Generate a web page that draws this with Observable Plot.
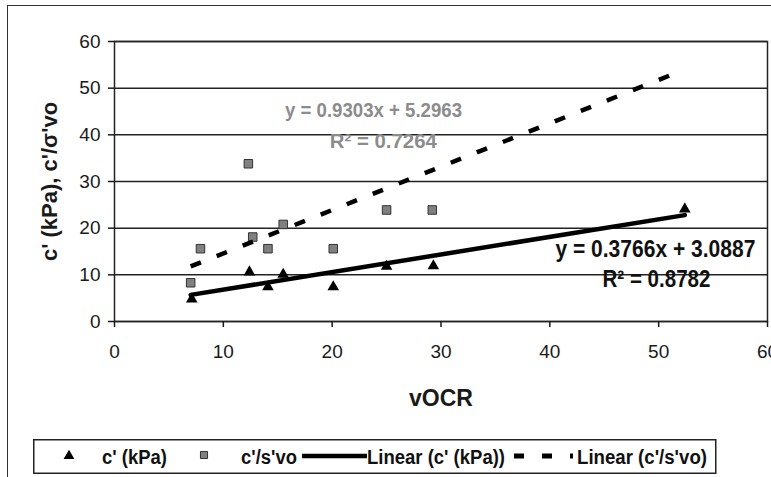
<!DOCTYPE html>
<html><head><meta charset="utf-8">
<script src="https://cdn.jsdelivr.net/npm/d3@7"></script>
<script src="https://cdn.jsdelivr.net/npm/@observablehq/plot@0.6"></script>
<style>
body{margin:0;background:#fff;width:771px;height:477px;overflow:hidden;position:relative;font-family:"Liberation Sans",Arial,sans-serif;}
#frame{position:absolute;left:7px;top:5px;width:900px;height:600px;border:1.5px solid #333;box-sizing:border-box;}
#chart{position:absolute;left:0;top:0;}
#legend{position:absolute;left:33px;top:439px;}
</style></head><body>
<div id="frame"></div>
<div id="chart"></div>
<div id="legend"></div>
<script>
// Data
const vocrC = [7.1, 12.4, 14.1, 15.5, 20.1, 25.0, 29.3, 52.4];
const cPrime = [4.8, 10.6, 7.4, 10.1, 7.4, 11.8, 11.9, 24.1];
const vocrS = [7.0, 7.9, 12.3, 12.7, 14.1, 15.5, 20.1, 25.0, 29.2];
const cRatio = [8.3, 15.6, 33.8, 18.1, 15.6, 20.8, 15.6, 23.9, 23.9];
const trendX = [7.0, 52.4];
const trendC = [5.7, 22.8];
const trendS = [11.8, 54.0];
const xTicks = [0, 10, 20, 30, 40, 50, 60];
const yTicks = [0, 10, 20, 30, 40, 50, 60];
const eqText = ["y = 0.9303x + 5.2963", "R² = 0.7264", "y = 0.3766x + 3.0887", "R² = 0.8782"];
const eqX = [23.8, 24.7, 49.7, 49.8];
const eqY = [45.3, 38.6, 15.5, 9.0];
const eqSeries = ["ratio", "ratio", "c", "c"];
const seriesNames = ["c' (kPa)", "c'/s'vo", "Linear (c' (kPa))", "Linear (c'/s'vo)"];
const xLabel = "vOCR";
const yLabel = "c' (kPa), c'/σ'vo";

const ptsC = vocrC.map((x, i) => ({x, y: cPrime[i]}));
const ptsS = vocrS.map((x, i) => ({x, y: cRatio[i]}));
const lineC = trendX.map((x, i) => ({x, y: trendC[i]}));
const lineS = trendX.map((x, i) => ({x, y: trendS[i]}));
const eqs = eqText.map((t, i) => ({t, x: eqX[i], y: eqY[i], s: eqSeries[i]}));

// condensed text widths (px) to mimic the narrow font of the original
const eqWidths = [177, 107, 200, 108];
const legendWidths = [65, 56, 138, 130];
const FONT = "'Liberation Sans', Arial, sans-serif";

const plot = Plot.plot({
  width: 771, height: 430,
  marginLeft: 114, marginRight: 4, marginTop: 41, marginBottom: 109,
  style: {fontFamily: FONT, fontSize: "19px", color: "#1a1a1a", background: "transparent", overflow: "visible"},
  x: {domain: [0, 60]},
  y: {domain: [0, 60]},
  marks: [
    Plot.gridY(yTicks, {stroke: "#222", strokeOpacity: 1, strokeWidth: 1.5}),
    Plot.frame({stroke: "#222", strokeWidth: 1.5}),
    Plot.axisY(yTicks, {tickSize: 6, tickPadding: 8, strokeWidth: 1.5, label: yLabel, labelArrow: "none", labelAnchor: "center", labelOffset: 73}),
    Plot.axisX(xTicks, {tickSize: 6, tickPadding: 17, strokeWidth: 1.5, label: xLabel, labelArrow: "none", labelAnchor: "center", labelOffset: 84}),
    Plot.dot(ptsS, {x: "x", y: "y", symbol: "square", r: 4.8, fill: "#808080", stroke: "#333", strokeWidth: 1}),
    Plot.dot(ptsC, {x: "x", y: "y", symbol: "triangle", r: 4.3, fill: "#000"}),
    Plot.line(lineC, {x: "x", y: "y", stroke: "#000", strokeWidth: 4.5}),
    Plot.line(lineS, {x: "x", y: "y", stroke: "#000", strokeWidth: 4.5, strokeDasharray: "11,17", strokeLinecap: "butt"}),
    Plot.text(eqs.filter(d => d.s === "ratio"), {x: "x", y: "y", text: "t", fill: "#8c8c8c", fontSize: 21, fontWeight: "bold", fontFamily: FONT}),
    Plot.text(eqs.filter(d => d.s === "c"), {x: "x", y: "y", text: "t", fill: "#111", fontSize: 24, fontWeight: "bold", fontFamily: FONT})
  ]
});
document.getElementById("chart").appendChild(plot);
const svg = d3.select(plot);
svg.selectAll('g[aria-label="y-axis label"], g[aria-label="x-axis label"]').selectAll("text")
  .each(function() { this.textContent = this.textContent.replace(/\s*[→←↑↓]\s*/g, ""); });
svg.select('g[aria-label="y-axis label"]').attr("font-weight", "bold").attr("font-size", 22);
svg.select('g[aria-label="x-axis label"]').attr("font-weight", "bold").attr("font-size", 23);
svg.selectAll('g[aria-label="text"] text').each(function() {
  const i = eqText.indexOf(this.textContent);
  if (i >= 0) d3.select(this).attr("textLength", eqWidths[i]).attr("lengthAdjust", "spacingAndGlyphs");
});

// Legend
const L = d3.select("#legend").append("svg").attr("width", 684).attr("height", 36);
L.append("rect").attr("x", 0.75).attr("y", 0.75).attr("width", 682).attr("height", 33.5)
  .attr("fill", "#fff").attr("stroke", "#222").attr("stroke-width", 1.5);
const cy = 17;
L.append("path").attr("transform", `translate(${69-33},${cy})`)
  .attr("d", d3.symbol(d3.symbolTriangle, Math.PI * 16)()).attr("fill", "#000");
L.append("path").attr("transform", `translate(${204-33},${cy-1})`)
  .attr("d", d3.symbol(d3.symbolSquare, Math.PI * 16)()).attr("fill", "#808080").attr("stroke", "#333");
L.append("line").attr("x1", 302-33).attr("x2", 367-33).attr("y1", cy).attr("y2", cy).attr("stroke", "#000").attr("stroke-width", 4.5);
L.append("line").attr("x1", 514-33).attr("x2", 573-33).attr("y1", cy).attr("y2", cy).attr("stroke", "#000").attr("stroke-width", 5).attr("stroke-dasharray", "10,18");
const textX = [102, 241, 367, 577];
seriesNames.forEach((n, i) => {
  L.append("text").attr("x", textX[i] - 33).attr("y", cy + 7.5).text(n)
    .attr("textLength", legendWidths[i]).attr("lengthAdjust", "spacingAndGlyphs")
    .attr("font-family", FONT).attr("font-weight", "bold").attr("font-size", 20).attr("fill", "#111");
});
</script>
</body></html>
